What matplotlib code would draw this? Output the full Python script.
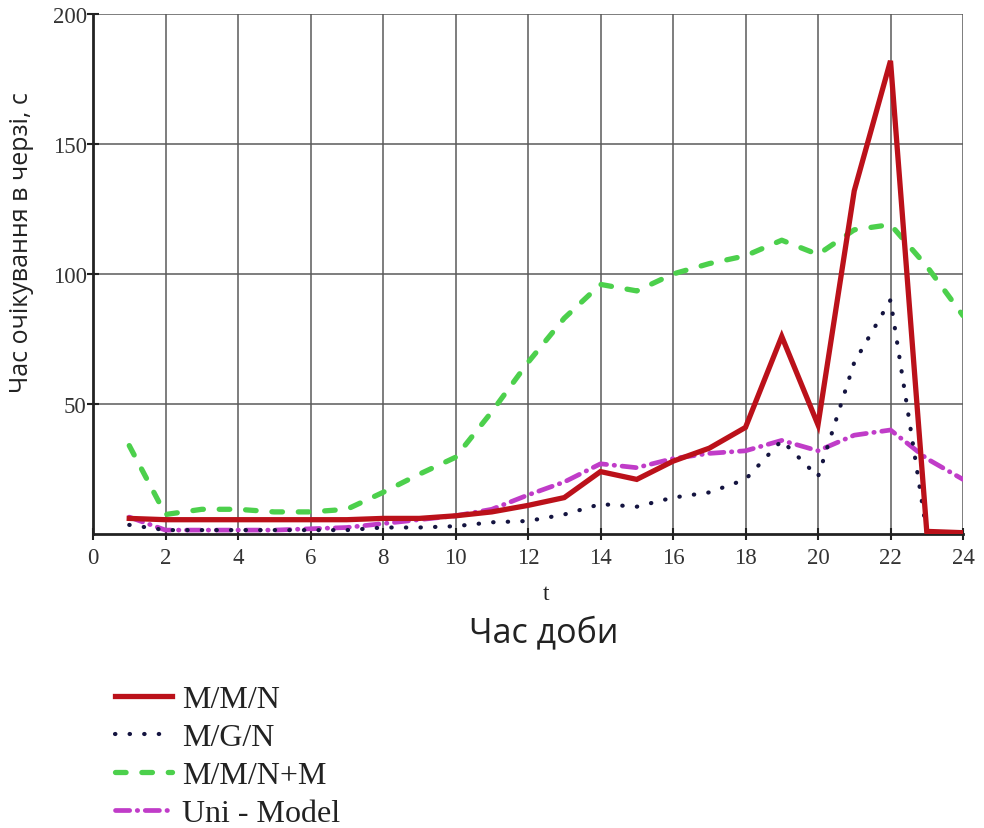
import matplotlib
matplotlib.use("Agg")
from matplotlib import pyplot as plt

# hours of the day
hours = list(range(1, 25))

# waiting time in queue, s
mmn = [6, 5.5, 5.5, 5.5, 5.5, 5.5, 5.5, 6, 6, 7, 8.5, 11, 14, 24, 21, 28, 33, 41,
       76, 42, 132, 182, 1, 0.5]
mgn = [3.5, 1.5, 1.5, 1.5, 1.5, 1.5, 1.5, 2.5, 2.5, 3, 4.5, 5, 7.5, 11.5, 10.5, 14,
       16, 21, 36, 22, 66, 90, 0.5, 0]
mmnm = [34, 7.5, 9.5, 9.5, 8.5, 8.5, 9.5, 16, 23, 29.5, 47, 66, 83, 96, 93.5, 100,
        104, 107, 113, 107.5, 117, 119, 103, 84]
uni = [6.5, 1.5, 1.5, 1.5, 1.5, 2, 2.5, 4, 5.5, 7, 9.5, 15, 20, 27, 25.5, 29, 31,
       32, 36, 32, 38, 40, 29, 21]

labels = ["M/M/N", "M/G/N", "M/M/N+M", "Uni - Model"]
xticks = list(range(0, 25, 2))
yticks = [50, 100, 150, 200]

W, H = 984, 829
fig = plt.figure(figsize=(W / 100, H / 100), dpi=100)
ax = fig.add_axes([93 / W, 1 - 535 / H, 870 / W, 520 / H])

ax.plot(hours, mmn, color="#bb111a", lw=3.8, solid_joinstyle="miter", label=labels[0], zorder=5)
ax.plot(hours, mgn, color="#141440", lw=3.0, linestyle=(0, (0.1, 3.4)),
        dash_capstyle="round", label=labels[1], zorder=4)
ax.plot(hours, mmnm, color="#4cd04c", lw=3.8, linestyle=(0, (2, 3)),
        dash_capstyle="round", label=labels[2], zorder=3)
ax.plot(hours, uni, color="#c03cc8", lw=3.4, linestyle=(0, (3, 1.6, 0.1, 1.6)),
        dash_capstyle="round", label=labels[3], zorder=3)

ax.set_xlim(0, 24)
ax.set_ylim(0, 200)
ax.set_xticks(xticks)
ax.set_yticks(yticks)
ax.grid(True, color="#5a5a5a", lw=1.1)
ax.set_axisbelow(True)

for side in ["top", "right"]:
    ax.spines[side].set_visible(False)
for side in ["left", "bottom"]:
    ax.spines[side].set_linewidth(2.0)
    ax.spines[side].set_color("#222222")

ax.tick_params(axis="both", which="major", direction="inout", length=9, width=1.5,
               colors="#222222", labelcolor="#333333", labelsize=16.5, pad=3)
for lbl in ax.get_xticklabels() + ax.get_yticklabels():
    lbl.set_family("Liberation Serif")
ax.tick_params(axis="x", pad=5)
ax.tick_params(axis="y", pad=0)

fig.text(546 / W, 1 - 595 / H, "t", family="Liberation Serif", fontsize=17,
         ha="center", va="center", color="#222222")
fig.text(544 / W, 1 - 633 / H, "Час доби", family="Open Sans", fontsize=24.5,
         ha="center", va="center", color="#222222")
fig.text(22 / W, 1 - 243 / H, "Час очікування в черзі, с", family="Open Sans",
         fontsize=18, rotation=90, ha="center", va="center", color="#222222")

leg = fig.legend(loc="upper left", bbox_to_anchor=(115 / W, 1 - 686 / H),
                 frameon=False, prop={"family": "Liberation Serif", "size": 23},
                 handlelength=1.78, handletextpad=0.31, labelspacing=0.27,
                 borderpad=0, borderaxespad=0)
for t in leg.get_texts():
    t.set_color("#222222")

fig.savefig("out.png", dpi=100)
